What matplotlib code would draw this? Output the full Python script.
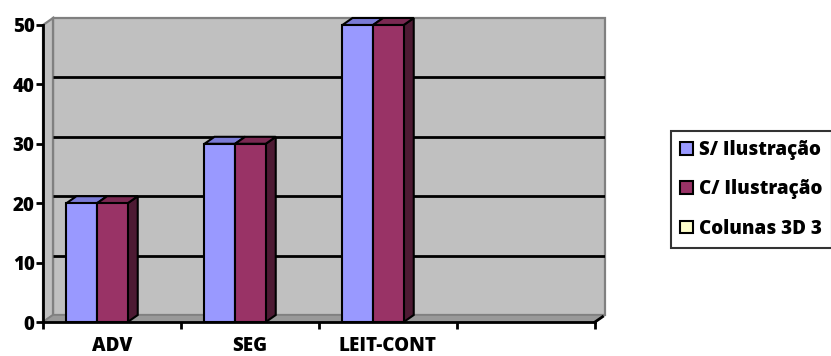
import matplotlib
matplotlib.use("Agg")
import matplotlib.pyplot as plt
from matplotlib.patches import Polygon, Patch
import numpy as np

plt.rcParams['font.family'] = ['Open Sans', 'DejaVu Sans']

# Data
categories = ["ADV", "SEG", "LEIT-CONT", ""]
series_names = ["S/ Ilustração", "C/ Ilustração", "Colunas 3D 3"]
s_ilustracao = [20, 30, 50]
c_ilustracao = [20, 30, 50]
y_ticks = [0, 10, 20, 30, 40, 50]

# Styling
front_colors = ["#9999FF", "#993366"]
top_colors = ["#7B7BD6", "#7A2952"]
side_colors = ["#5E5EA8", "#4D1A33"]
legend_colors = ["#9999FF", "#993366", "#FFFFCC"]
wall_color = "#C0C0C0"
floor_color = "#999999"
edge_gray = "#808080"
font_size = 13.5
font_weight = 800

W, H = 831, 356
fig = plt.figure(figsize=(W / 100, H / 100), dpi=100)
fig.patch.set_facecolor("white")

# axes box in pixels (front-left corner of the plot to top of back wall)
px_left, px_right, px_bottom, px_top = 43, 605, 322, 17
ax = fig.add_axes([px_left / W, 1 - px_bottom / H,
                   (px_right - px_left) / W, (px_bottom - px_top) / H])

cat_px = 138.0
unit_px = (322 - 25) / 50.0
ncat = len(categories)
depth_x = 10 / cat_px
depth_y = 7 / unit_px
ax.set_xlim(0, ncat + depth_x)
ax.set_ylim(0, (px_bottom - px_top) / unit_px)
ax.patch.set_visible(False)

# Back wall, side wall, floor
ax.add_patch(Polygon([(depth_x, depth_y), (ncat + depth_x, depth_y),
                      (ncat + depth_x, 50 + depth_y), (depth_x, 50 + depth_y)],
                     closed=True, facecolor=wall_color, edgecolor=edge_gray,
                     lw=1.6, zorder=1, clip_on=False))
ax.add_patch(Polygon([(0, 0), (depth_x, depth_y), (depth_x, 50 + depth_y), (0, 50)],
                     closed=True, facecolor=wall_color, edgecolor=edge_gray,
                     lw=1.6, zorder=1, clip_on=False))
ax.add_patch(Polygon([(0, 0), (ncat, 0), (ncat + depth_x, depth_y), (depth_x, depth_y)],
                     closed=True, facecolor=floor_color, edgecolor=edge_gray,
                     lw=1.2, zorder=1.5, clip_on=False))

# Gridlines on the back wall
for v in y_ticks[1:-1]:
    ax.plot([depth_x, ncat + depth_x], [v + depth_y, v + depth_y],
            color="black", lw=2, zorder=2, solid_capstyle="butt")

# 3D columns
bar_w = 0.222
group_left = 0.17
x_idx = np.arange(len(s_ilustracao))
for k, vals in enumerate([s_ilustracao, c_ilustracao]):
    lefts = x_idx + group_left + k * bar_w
    for x0, v in zip(lefts, vals):
        z = 3 + k
        ax.add_patch(Polygon([(x0 + bar_w, 0), (x0 + bar_w + depth_x, depth_y),
                              (x0 + bar_w + depth_x, v + depth_y), (x0 + bar_w, v)],
                             closed=True, facecolor=side_colors[k], edgecolor="black",
                             lw=1.5, zorder=z, joinstyle="miter"))
        ax.add_patch(Polygon([(x0, v), (x0 + bar_w, v),
                              (x0 + bar_w + depth_x, v + depth_y), (x0 + depth_x, v + depth_y)],
                             closed=True, facecolor=top_colors[k], edgecolor="black",
                             lw=1.5, zorder=z, clip_on=False, joinstyle="miter"))
    ax.bar(lefts, vals, width=bar_w, align="edge", color=front_colors[k],
           edgecolor="black", linewidth=1.5, zorder=z + 0.5)

# Front axes
for s in ["top", "right"]:
    ax.spines[s].set_visible(False)
ax.spines["left"].set_bounds(0, 50)
ax.spines["bottom"].set_bounds(0, ncat)
for s in ["left", "bottom"]:
    ax.spines[s].set_linewidth(2)
    ax.spines[s].set_zorder(6)
ax.plot([ncat, ncat + depth_x * 0.75], [0, depth_y * 0.75], color="black",
        lw=2, zorder=6, clip_on=False)

ax.set_yticks(y_ticks)
ax.set_yticklabels([str(t) for t in y_ticks], fontsize=font_size, fontweight=font_weight)
ax.tick_params(axis="y", length=5, width=2, pad=1)
ax.set_xticks(np.arange(ncat + 1))
ax.set_xticklabels([])
ax.tick_params(axis="x", which="major", length=5, width=2, direction="out")
ax.set_xticks(np.arange(ncat) + 0.5, minor=True)
ax.set_xticklabels(categories, minor=True, fontsize=font_size, fontweight=font_weight)
ax.tick_params(axis="x", which="minor", length=0, pad=10)

# Legend
handles = [Patch(facecolor=c, edgecolor="black", linewidth=1.5) for c in legend_colors]
leg = fig.legend(handles, series_names, loc="upper left",
                 bbox_to_anchor=(671 / W, 1 - 131 / H), bbox_transform=fig.transFigure,
                 prop={"weight": font_weight, "size": font_size},
                 frameon=True, fancybox=False, borderaxespad=0,
                 handlelength=0.68, handleheight=0.68, handletextpad=0.3,
                 labelspacing=1.02, borderpad=0.5)
leg.get_frame().set_edgecolor("black")
leg.get_frame().set_linewidth(1.5)

fig.savefig("out.png", dpi=100)
